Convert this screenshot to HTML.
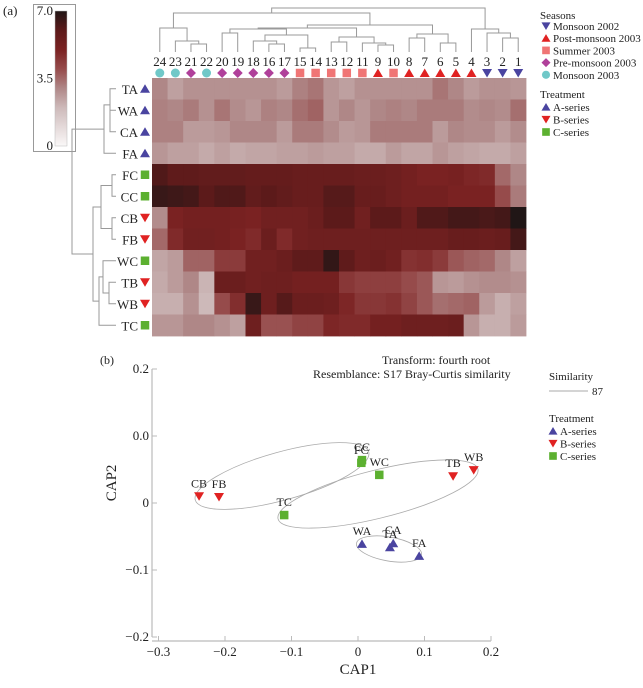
<!DOCTYPE html>
<html><head><meta charset="utf-8">
<style>
body{margin:0;background:#fff;}
svg text{font-family:"Liberation Serif",serif;fill:#222;}
</style></head>
<body>
<svg id="chart" width="643" height="683" viewBox="0 0 643 683" xmlns="http://www.w3.org/2000/svg">
<g id="hm"></g>
<g id="sc"></g>
</svg>
<script>
const colLabels=["24","23","21","22","20","19","18","16","17","15","14","13","12","11","9","10","8","7","6","5","4","3","2","1"];
const colSeason=["m03","m03","pre","m03","pre","pre","pre","pre","pre","sum","sum","sum","sum","sum","post","sum","post","post","post","post","post","m02","m02","m02"];
const rowLabels=["TA","WA","CA","FA","FC","CC","CB","FB","WC","TB","WB","TC"];
const rowSeries=["A","A","A","A","C","C","B","B","C","B","B","C"];
const vTA=[3.0,2.5,2.8,2.8,2.8,2.8,2.8,2.8,2.6,3.1,3.3,2.7,2.5,2.8,2.8,2.8,2.8,2.8,3.3,3.0,2.6,2.8,2.8,2.7];
const vWA=[3.1,3.0,3.2,2.8,3.3,2.9,2.7,3.1,3.0,3.4,3.6,2.7,3.0,2.7,3.0,3.1,3.0,3.2,3.2,3.2,2.9,3.0,2.9,3.4];
const vCA=[3.1,3.1,2.6,2.6,2.7,3.0,3.0,3.0,2.6,3.2,3.2,2.9,2.6,2.7,3.2,3.2,3.2,3.2,2.6,3.0,2.9,2.9,2.6,2.9];
const vFA=[2.7,2.5,2.5,2.3,2.5,2.3,2.4,2.4,2.5,2.5,2.6,2.5,2.5,2.3,2.3,2.6,2.4,2.4,2.7,2.5,2.4,2.3,2.3,2.5];
const vFC=[6.2,5.9,5.9,5.8,5.8,5.8,5.7,5.7,5.7,5.6,5.6,5.6,5.6,5.5,5.5,5.4,5.2,5.0,5.0,5.1,4.9,4.8,3.5,3.0];
const vCC=[6.6,6.5,6.4,6.0,6.2,6.2,5.8,6.0,5.8,5.6,5.6,6.1,6.1,5.6,5.6,5.4,5.2,5.2,5.2,5.0,5.0,5.0,4.0,3.2];
const vCB=[2.9,5.0,5.2,5.2,5.2,5.1,5.0,5.3,5.3,5.3,5.5,6.0,6.0,5.3,6.0,6.0,5.5,6.2,6.2,6.4,6.4,6.3,6.4,7.0];
const vFB=[3.5,4.8,5.3,5.3,5.2,5.0,4.8,5.5,4.8,5.3,5.4,5.4,5.4,5.4,5.4,5.4,5.4,5.4,5.4,5.6,5.6,5.5,5.6,6.4];
const vWC=[2.4,2.6,3.6,3.6,4.4,4.4,5.3,5.3,5.5,5.9,5.9,6.7,5.9,5.4,5.5,5.3,4.6,4.7,4.4,3.8,3.6,3.5,3.0,2.5];
const vTB=[2.3,2.6,3.0,2.1,5.5,5.5,5.3,5.4,5.4,5.2,5.2,5.2,4.5,4.3,4.3,4.3,4.0,3.8,2.7,2.6,2.8,2.9,2.9,2.8];
const vWB=[2.2,2.2,2.8,2.0,4.0,4.7,6.6,5.4,6.1,5.5,5.5,5.4,4.9,4.5,4.5,4.6,4.2,3.8,3.4,3.5,3.6,2.6,2.2,2.5];
const vTC=[2.7,2.7,3.0,3.0,2.8,2.5,5.4,3.9,3.9,4.2,4.2,4.9,4.8,4.8,5.2,5.2,5.4,5.4,5.4,5.5,2.7,2.2,2.2,2.6];
const colorTicks=["0","3.5","7.0"];
const ptLabels=["CB","FB","TC","CC","FC","WC","TB","WB","WA","TA","CA","FA"];
const ptSeries=["B","B","C","C","C","C","B","B","A","A","A","A"];
const ptX=[-0.239,-0.209,-0.111,0.006,0.005,0.032,0.143,0.174,0.006,0.048,0.053,0.092];
const ptY=[0.010,0.009,-0.018,0.064,0.060,0.042,0.040,0.049,-0.061,-0.066,-0.060,-0.079];
const xTickVals=[-0.3,-0.2,-0.1,0,0.1,0.2];
const xTickLabels=["\u22120.3","\u22120.2","\u22120.1","0","0.1","0.2"];
const yTickVals=[0.2,0.1,0,-0.1,-0.2];
const yTickLabels=["0.2","0.0","0","\u22120.1","\u22120.2"];

const NS="http://www.w3.org/2000/svg";
function mk(parent,tag,attrs,text){const e=document.createElementNS(NS,tag);for(const k in attrs)e.setAttribute(k,attrs[k]);if(text!==undefined)e.textContent=text;parent.appendChild(e);return e;}
const hm=document.getElementById('hm'), sc=document.getElementById('sc');
const values=[vTA,vWA,vCA,vFA,vFC,vCC,vCB,vFB,vWC,vTB,vWB,vTC];

const stops=[[0,[250,248,248]],[2,[205,185,185]],[3,[175,135,135]],[4,[150,75,75]],[5,[122,34,34]],[6,[92,26,26]],[7,[32,22,22]]];
function cmap(v){v=Math.max(0,Math.min(7,v));for(let i=1;i<stops.length;i++){if(v<=stops[i][0]){const a=stops[i-1],b=stops[i],t=(v-a[0])/(b[0]-a[0]);const c=a[1].map((x,j)=>Math.round(x+(b[1][j]-x)*t));return `rgb(${c})`;}}return 'rgb(32,22,22)';}
const HX=152,HY=78,CW=374/24,RH=21.5;
const cx=i=>HX+CW*(i+0.5), ry=i=>HY+RH*(i+0.5);

const mcol={A:'#4a44a0',B:'#e02222',C:'#5cb030',m02:'#4a44a0',post:'#e02222',sum:'#f07575',pre:'#b0409a',m03:'#70c8c8'};
function marker(g,type,x,y,s){
  const c=mcol[type]; let e;
  if(type==='A'||type==='post') e=mk(g,'polygon',{points:`${x-s},${y+s*0.8} ${x+s},${y+s*0.8} ${x},${y-s*0.9}`,fill:c});
  else if(type==='B'||type==='m02') e=mk(g,'polygon',{points:`${x-s},${y-s*0.8} ${x+s},${y-s*0.8} ${x},${y+s*0.9}`,fill:c});
  else if(type==='C'||type==='sum') e=mk(g,'rect',{x:x-s*0.85,y:y-s*0.85,width:s*1.7,height:s*1.7,fill:c});
  else if(type==='pre') e=mk(g,'polygon',{points:`${x},${y-s} ${x+s},${y} ${x},${y+s} ${x-s},${y}`,fill:c});
  else e=mk(g,'circle',{cx:x,cy:y,r:s*0.9,fill:c});
  return e;
}

values.forEach((row,r)=>row.forEach((v,c)=>{
  const e=mk(hm,'rect',{x:HX+CW*c,y:HY+RH*r,width:CW+0.4,height:RH+0.4,fill:cmap(v)});
  
  
}));
colLabels.forEach((l,i)=>{
  const t=mk(hm,'text',{x:cx(i),y:66,'font-size':13,'text-anchor':'middle'},l);
  
  
  const m=marker(hm,colSeason[i],cx(i),73,5);
  
  
});
rowLabels.forEach((l,i)=>{
  const t=mk(hm,'text',{x:138,y:ry(i)+5,'font-size':13,'text-anchor':'end'},l);
  
  
  const m=marker(hm,rowSeries[i],145,ry(i),5);
  
  
});

const LC='#999';
function drawTree(node,pos,orient,leafEnd){
  if(typeof node==='number') return {c:pos(node),h:leafEnd};
  const a=drawTree(node[1],pos,orient,leafEnd), b=drawTree(node[2],pos,orient,leafEnd), h=node[0];
  let e;
  if(orient==='col'){
    e=mk(hm,'path',{d:`M${a.c},${a.h}V${h}H${b.c}V${b.h}`,fill:'none',stroke:LC,'stroke-width':1});
    
  } else {
    e=mk(hm,'path',{d:`M${a.h},${a.c}H${h}V${b.c}H${b.h}`,fill:'none',stroke:LC,'stroke-width':1});
    
  }
  
  return {c:(a.c+b.c)/2,h:h};
}
const colTree=[8,[13,[28,0,[41,1,[44,2,3]]],[25,[28,[29,[33,4,5],[35,[41,6,[44,7,8]],[48,9,10]]],[37,[42,11,12],[43,13,[45,14,15]]]],[34,[38,16,17],[43,18,19]]]],[29,20,[33,21,[38,22,23]]]];
drawTree(colTree,cx,'col',52);
const rowTree=[72,[104,[110,0,[110,1,2]],3],[93,[101,[112,4,5],[112,6,7]],[99,[103,8,[109,9,10]],11]]];
drawTree(rowTree,ry,'row',116);

const cb=mk(hm,'g',{});


mk(cb,'rect',{x:33.5,y:4.5,width:42,height:147,fill:'none',stroke:'#999'});
const gd=mk(cb,'defs',{});const lg=mk(gd,'linearGradient',{id:'cg',x1:0,y1:1,x2:0,y2:0});
for(let v=0;v<=7;v+=0.5) mk(lg,'stop',{offset:v/7,'stop-color':cmap(v)});
mk(cb,'rect',{x:55,y:11,width:12,height:135,fill:'url(#cg)',stroke:'#bbb','stroke-width':0.5});
colorTicks.forEach(t=>{const v=parseFloat(t);mk(cb,'text',{x:53,y:146-v/7*135+4,'font-size':13,'text-anchor':'end'},t);});
mk(hm,'text',{x:3,y:15,'font-size':13},'(a)');

const lg1=mk(hm,'g',{});


mk(lg1,'text',{x:540,y:19,'font-size':11},'Seasons');
[['m02','Monsoon 2002'],['post','Post-monsoon 2003'],['sum','Summer 2003'],['pre','Pre-monsoon 2003'],['m03','Monsoon 2003']].forEach((e,i)=>{
  const y=26+i*12.2; marker(lg1,e[0],546,y,4.5); mk(lg1,'text',{x:553,y:y+4,'font-size':11},e[1]);
});
const lg2=mk(hm,'g',{});


mk(lg2,'text',{x:540,y:98,'font-size':11},'Treatment');
[['A','A-series'],['B','B-series'],['C','C-series']].forEach((e,i)=>{
  const y=107+i*12.5; marker(lg2,e[0],546,y,4.5); mk(lg2,'text',{x:553,y:y+4,'font-size':11},e[1]);
});

const X0=358,XS=665,Y0=503,YS=670;
const sx=v=>X0+v*XS, sy=v=>Y0-v*YS;
mk(sc,'text',{x:100,y:364,'font-size':12},'(b)');
const ya=mk(sc,'g',{});
mk(ya,'line',{x1:152,y1:sy(0.2),x2:152,y2:sy(-0.2),stroke:'#bbb','stroke-width':1.2});
yTickVals.forEach((v,i)=>{mk(ya,'line',{x1:152,x2:157,y1:sy(v),y2:sy(v),stroke:'#bbb'});mk(ya,'text',{x:149,y:sy(v)+4,'font-size':13,'text-anchor':'end'},yTickLabels[i]);});
const xa=mk(sc,'g',{});
mk(xa,'line',{x1:152,y1:641,x2:sx(0.2),y2:641,stroke:'#bbb','stroke-width':1.2});
xTickVals.forEach((v,i)=>{mk(xa,'line',{x1:sx(v),x2:sx(v),y1:636,y2:641,stroke:'#bbb'});mk(xa,'text',{x:sx(v),y:656,'font-size':13,'text-anchor':'middle'},xTickLabels[i]);});
const xt=mk(sc,'text',{x:sx(0),y:674,'font-size':15,'text-anchor':'middle'},'CAP1');
const yt=mk(sc,'text',{x:0,y:0,'font-size':15,'text-anchor':'middle',transform:`translate(116,${sy(0.03)}) rotate(-90)`},'CAP2');
mk(sc,'text',{x:382,y:364,'font-size':12},'Transform: fourth root');
mk(sc,'text',{x:313,y:378,'font-size':12},'Resemblance: S17 Bray-Curtis similarity');
[[282,476,90,24,-15.5],[378,494,103,24,-14],[389,549,33,12,10]].forEach(e=>{
  const el=mk(sc,'ellipse',{cx:e[0],cy:e[1],rx:e[2],ry:e[3],transform:`rotate(${e[4]} ${e[0]} ${e[1]})`,fill:'none',stroke:'#aaa','stroke-width':0.8});
  
  
});
ptLabels.forEach((l,i)=>{
  const m=marker(sc,ptSeries[i],sx(ptX[i]),sy(ptY[i]),5);
  
  
  const t=mk(sc,'text',{x:sx(ptX[i]),y:sy(ptY[i])-9,'font-size':12,'text-anchor':'middle'},l);
  
  
});
const lg3=mk(sc,'g',{});


mk(lg3,'text',{x:549,y:380,'font-size':11},'Similarity');
mk(lg3,'line',{x1:549,x2:588,y1:391,y2:391,stroke:'#aaa'});
mk(lg3,'text',{x:592,y:395,'font-size':11},'87');
mk(lg3,'text',{x:549,y:422,'font-size':11},'Treatment');
[['A','A-series'],['B','B-series'],['C','C-series']].forEach((e,i)=>{
  const y=431+i*12.5; marker(lg3,e[0],553,y,4.5); mk(lg3,'text',{x:560,y:y+4,'font-size':11},e[1]);
});
</script>
</body></html>
